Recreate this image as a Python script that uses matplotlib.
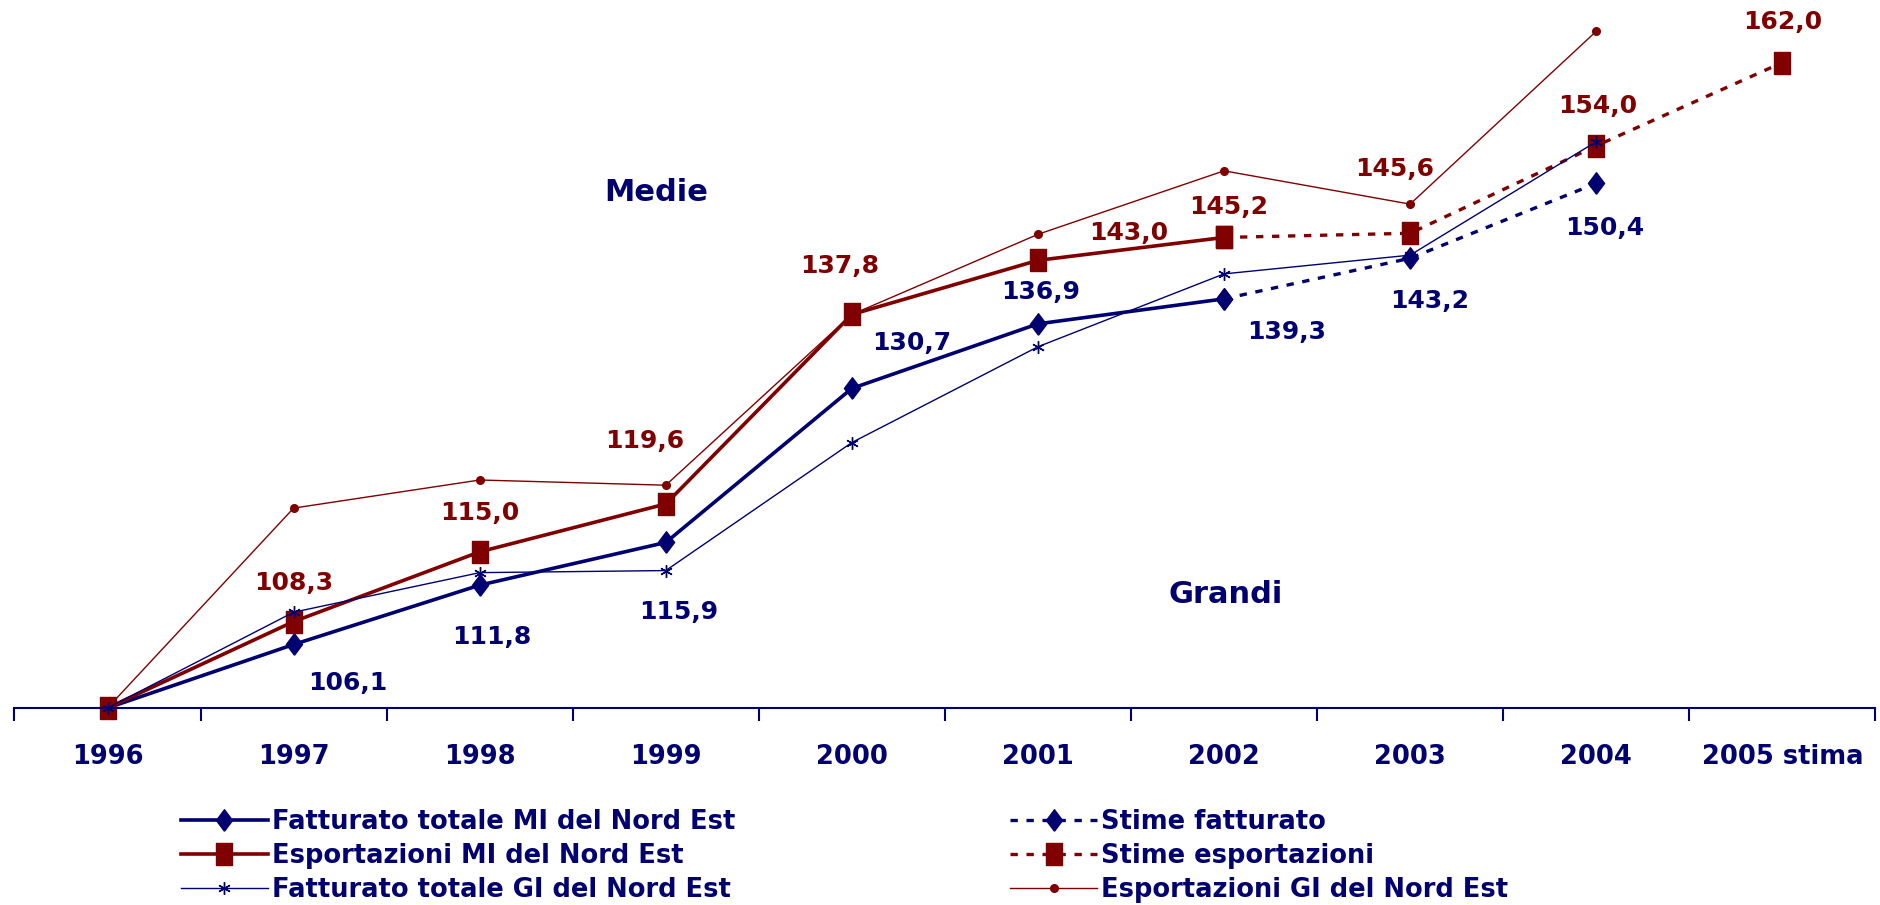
import matplotlib
matplotlib.use('Agg')
import matplotlib.pyplot as plt

plt.rcParams['font.family'] = ['DejaVu Sans']
plt.rcParams['font.weight'] = 'bold'

NAVY = '#000070'
DRED = '#800000'

years = ['1996', '1997', '1998', '1999', '2000', '2001', '2002', '2003', '2004', '2005 stima']

fatt_mi = [100.0, 106.1, 111.8, 115.9, 130.7, 136.9, 139.3]
stime_fatt = [139.3, 143.2, 150.4]
esp_mi = [100.0, 108.3, 115.0, 119.6, 137.8, 143.0, 145.2]
stime_esp = [145.2, 145.6, 154.0, 162.0]
fatt_gi = [100.0, 109.2, 113.0, 113.2, 125.5, 134.7, 141.7, 143.5, 154.4]
esp_gi = [100.0, 119.2, 121.9, 121.4, 137.8, 145.5, 151.6, 148.4, 165.0]

# custom markers (the originals are taller than wide)
diamond = [(0, -1), (0.75, 0), (0, 1), (-0.75, 0), (0, -1)]
rect = [(-0.7, -1), (0.7, -1), (0.7, 1), (-0.7, 1), (-0.7, -1)]

fig = plt.figure(figsize=(18.81, 9.05), dpi=100)
ax = fig.add_axes([0.0077, 0.2177, 0.9893, 0.7753])

x_mi = list(range(len(fatt_mi)))
x_sf = list(range(6, 6 + len(stime_fatt)))
x_se = list(range(6, 6 + len(stime_esp)))
x_gi = list(range(len(fatt_gi)))

l_sf, = ax.plot(x_sf, stime_fatt, color=NAVY, lw=2.4, dashes=(2.2, 2.6), marker=diamond, ms=15.5,
                clip_on=False, label='Stime fatturato')
l_se, = ax.plot(x_se, stime_esp, color=DRED, lw=2.4, dashes=(2.2, 2.6), marker=rect, ms=15.5,
                clip_on=False, label='Stime esportazioni')
l_egi, = ax.plot(x_gi, esp_gi, color=DRED, lw=1.0, marker='o', ms=5.5,
                 clip_on=False, label='Esportazioni GI del Nord Est')
l_fmi, = ax.plot(x_mi, fatt_mi, color=NAVY, lw=2.6, marker=diamond, ms=15.5,
                 clip_on=False, label='Fatturato totale MI del Nord Est')
l_emi, = ax.plot(x_mi, esp_mi, color=DRED, lw=2.6, marker=rect, ms=15.5,
                 clip_on=False, label='Esportazioni MI del Nord Est')
l_fgi, = ax.plot(x_gi, fatt_gi, color=NAVY, lw=1.0, marker=(6, 2, 0), ms=9, mew=1.0,
                 clip_on=False, label='Fatturato totale GI del Nord Est')

# value labels
fatt_vals = fatt_mi[1:] + stime_fatt[1:]
fatt_off = [(39, -28), (9, -37), (9, -50), (43, 33), (2, 23), (45, -24), (14, -31), (6, -32)]
for i, (v, off) in enumerate(zip(fatt_vals, fatt_off)):
    ax.annotate(f'{v:.1f}'.replace('.', ','), (i + 1, v), xytext=off, textcoords='offset points',
                ha='center', va='center', color=NAVY, fontsize=18, fontweight='bold')

esp_vals = esp_mi[1:] + stime_esp[1:]
esp_off = [(0, 28), (0, 28), (-15, 45), (-9, 35), (65, 20), (3, 22), (-11, 46), (1, 29), (0, 29)]
for i, (v, off) in enumerate(zip(esp_vals, esp_off)):
    ax.annotate(f'{v:.1f}'.replace('.', ','), (i + 1, v), xytext=off, textcoords='offset points',
                ha='center', va='center', color=DRED, fontsize=18, fontweight='bold')

ax.text(2.95, 149.5, 'Medie', color=NAVY, fontsize=22, fontweight='bold', ha='center', va='center')
ax.text(6.01, 110.9, 'Grandi', color=NAVY, fontsize=22, fontweight='bold', ha='center', va='center')

ax.set_xlim(-0.5, 9.5)
ax.set_ylim(100, 167.4)
for s in ['top', 'right', 'left']:
    ax.spines[s].set_visible(False)
ax.spines['bottom'].set_color(NAVY)
ax.spines['bottom'].set_linewidth(1.5)
ax.set_yticks([])
ax.set_xticks(range(len(years)))
ax.set_xticklabels(years, color=NAVY, fontsize=18.5, fontweight='bold')
ax.tick_params(axis='x', which='major', length=0, pad=26)
ax.set_xticks([i - 0.5 for i in range(len(years) + 1)], minor=True)
ax.tick_params(axis='x', which='minor', length=9, width=1.5, color=NAVY, direction='out')

leg_kw = dict(frameon=False, handlelength=3.4, handletextpad=0.15,
              labelspacing=0.31, borderaxespad=0, borderpad=0, labelcolor=NAVY,
              prop={'weight': 'bold', 'size': 18.5})
leg1 = fig.legend(handles=[l_fmi, l_emi, l_fgi], loc='upper left',
                  bbox_to_anchor=(0.096, 0.106), **leg_kw)
leg2 = fig.legend(handles=[l_sf, l_se, l_egi], loc='upper left',
                  bbox_to_anchor=(0.537, 0.106), **leg_kw)

fig.savefig('out.png', dpi=100)
